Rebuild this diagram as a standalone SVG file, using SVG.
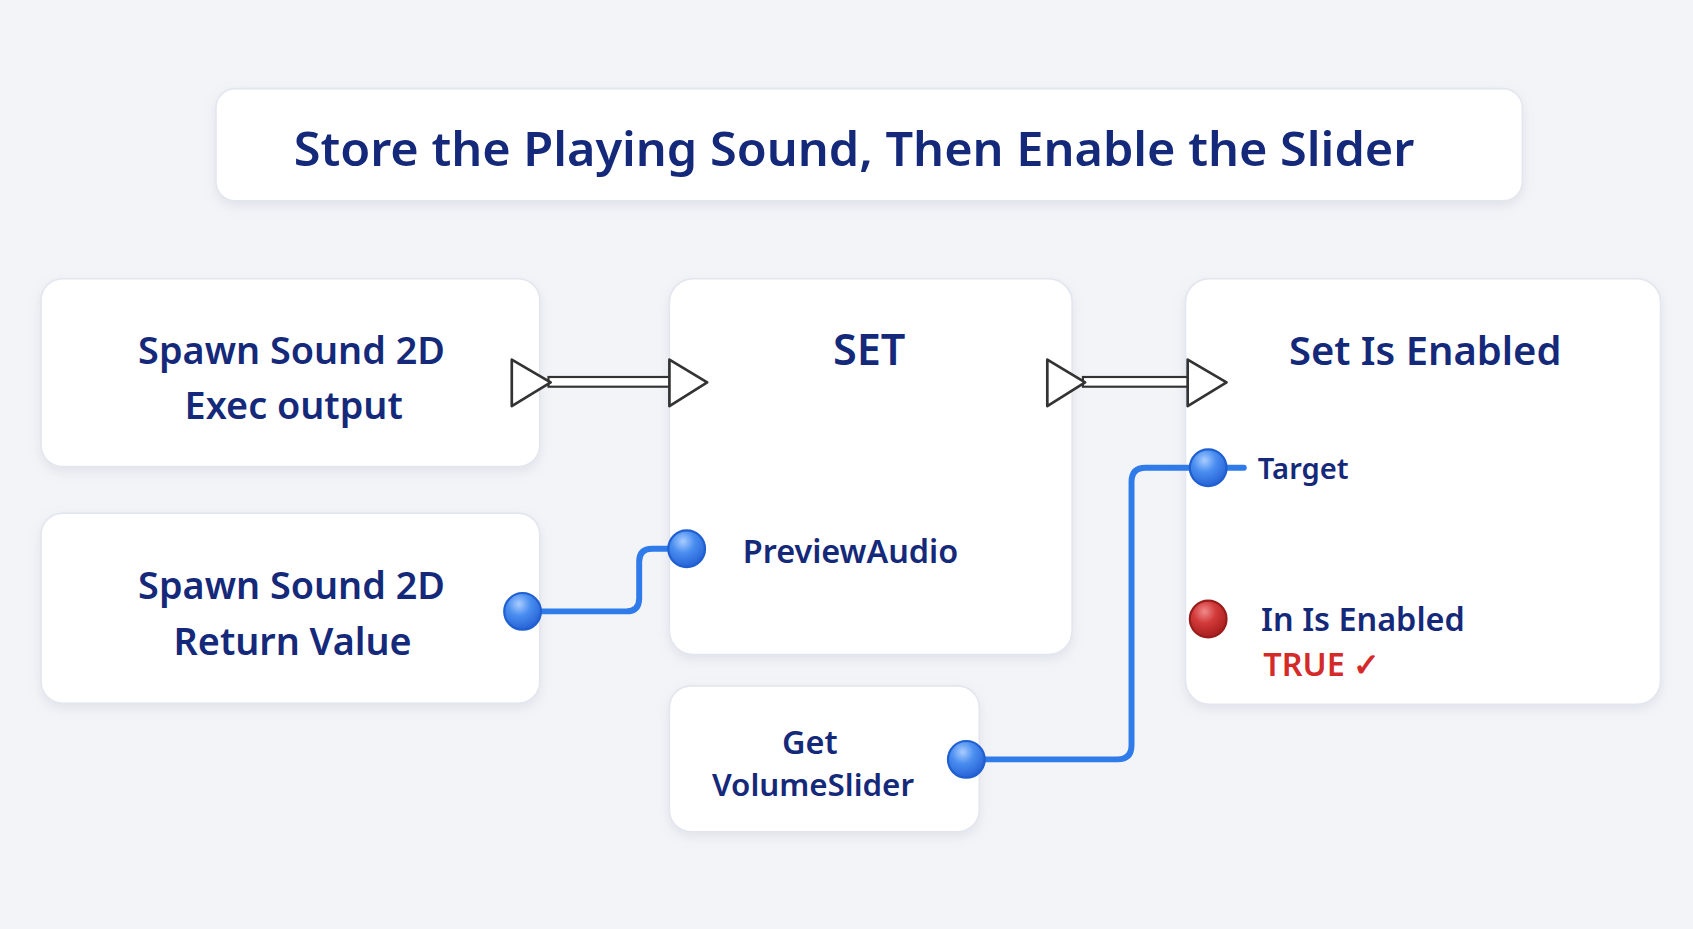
<svg xmlns="http://www.w3.org/2000/svg" width="1693" height="929" viewBox="0 0 1693 929">
<defs>
<style>
.card{fill:#fff;stroke:#e3e6ee;stroke-width:1.5}
.t{font-family:"Noto Sans","Open Sans",sans-serif;font-weight:600;fill:#15297a;text-anchor:middle}
.l{font-family:"Noto Sans","Open Sans",sans-serif;font-weight:600;fill:#15297a}
.wire{fill:none;stroke:#2f7bea;stroke-width:5.5;stroke-linecap:round}
.tri{fill:#fff;stroke:#333;stroke-width:2.5;stroke-linejoin:round}
.bar{fill:#fff;stroke:#333;stroke-width:2}
</style>
<filter id="sh" x="-10%" y="-10%" width="120%" height="130%"><feDropShadow dx="0" dy="4" stdDeviation="5" flood-color="#8890a8" flood-opacity="0.18"/></filter>
<radialGradient id="bp" cx="40%" cy="30%" r="70%"><stop offset="0" stop-color="#a9ccff"/><stop offset="0.45" stop-color="#4a8ef0"/><stop offset="1" stop-color="#2663d6"/></radialGradient>
<radialGradient id="rp" cx="40%" cy="30%" r="70%"><stop offset="0" stop-color="#f08a8a"/><stop offset="0.45" stop-color="#d33a3a"/><stop offset="1" stop-color="#a81e1e"/></radialGradient>
</defs>
<rect width="1693" height="929" fill="#f3f4f8"/>
<g transform="scale(1.0797 1.0802)">
<g id="title"><rect class="card" filter="url(#sh)" x="200" y="82" width="1210" height="104" rx="18"/>
<text class="t" x="791" y="154" font-size="44" textLength="1038" lengthAdjust="spacingAndGlyphs">Store the Playing Sound, Then Enable the Slider</text></g>
<g id="spawn-exec"><rect class="card" filter="url(#sh)" x="38" y="258" width="462" height="174" rx="20"/>
<text class="t" x="270" y="337" font-size="35">Spawn Sound 2D</text><text class="t" x="272" y="388" font-size="35">Exec output</text></g>
<g id="spawn-return"><rect class="card" filter="url(#sh)" x="38" y="475" width="462" height="176" rx="20"/>
<text class="t" x="270" y="555" font-size="35">Spawn Sound 2D</text><text class="t" x="271" y="606" font-size="35">Return Value</text></g>
<g id="set"><rect class="card" filter="url(#sh)" x="620" y="258" width="373" height="348" rx="22"/>
<text class="t" x="805" y="338" font-size="40">SET</text>
<text class="l" x="688" y="521" font-size="30">PreviewAudio</text></g>
<g id="set-enabled"><rect class="card" filter="url(#sh)" x="1098" y="258" width="440" height="394" rx="22"/>
<text class="t" x="1320" y="338" font-size="37">Set Is Enabled</text>
<text class="l" x="1165" y="443" font-size="27">Target</text>
<text class="l" x="1168" y="584" font-size="30">In Is Enabled</text>
<text class="l" x="1170" y="626" font-size="30" style="fill:#d42a2a">TRUE ✓</text></g>
<g id="get-slider"><rect class="card" filter="url(#sh)" x="620" y="635" width="287" height="135" rx="20"/>
<text class="t" x="750" y="698" font-size="30">Get</text><text class="t" x="753" y="737" font-size="29">VolumeSlider</text></g>
<g id="connectors">
<rect class="bar" x="508" y="349" width="114" height="9"/>
<path class="tri" d="M474 333 L510 354 L474 376 Z"/>
<path class="tri" d="M620 333 L655 354 L620 376 Z"/>
<rect class="bar" x="1003" y="349" width="99" height="9"/>
<path class="tri" d="M970 333 L1005 354 L970 376 Z"/>
<path class="tri" d="M1100 333 L1136 354 L1100 376 Z"/>
<path class="wire" d="M500 566 H580 Q592 566 592 554 V520 Q592 508 604 508 H620"/>
<path class="wire" d="M912 703 H1035 Q1048 703 1048 690 V446 Q1048 433 1061 433 H1152"/>
<circle cx="484" cy="566" r="17" fill="url(#bp)" stroke="#1f5fd0" stroke-width="2"/>
<circle cx="636" cy="508" r="17" fill="url(#bp)" stroke="#1f5fd0" stroke-width="2"/>
<circle cx="1119" cy="433" r="17" fill="url(#bp)" stroke="#1f5fd0" stroke-width="2"/>
<circle cx="895" cy="703" r="17" fill="url(#bp)" stroke="#1f5fd0" stroke-width="2"/>
<circle cx="1119" cy="573" r="17" fill="url(#rp)" stroke="#9a1c1c" stroke-width="2"/>
</g>
</g>
</svg>
